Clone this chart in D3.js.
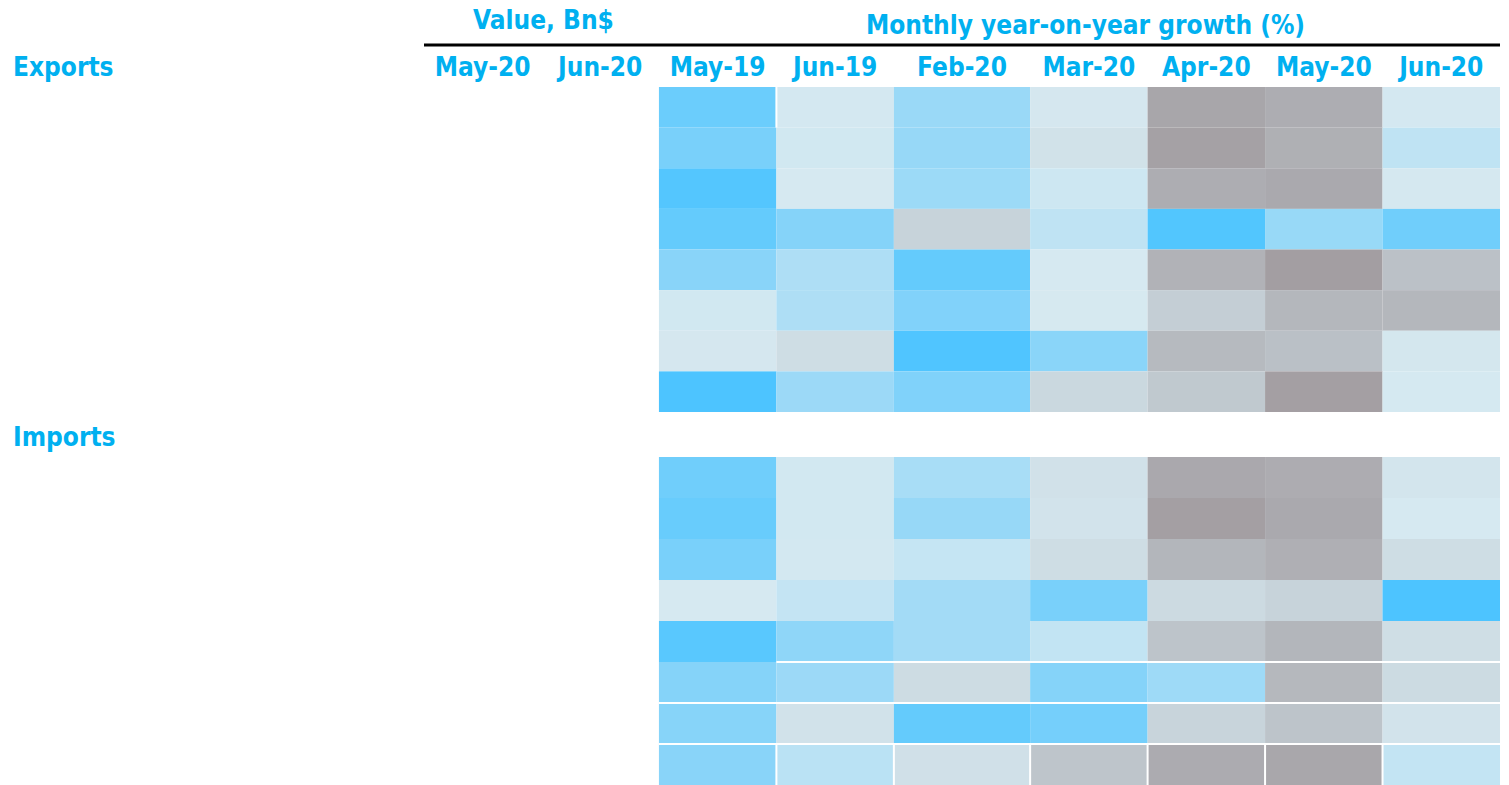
<!DOCTYPE html>
<html>
<head>
<meta charset="utf-8">
<script src="https://cdn.jsdelivr.net/npm/d3@7"></script>
<style>
  html, body { margin: 0; padding: 0; background: #fff; }
  svg text { font-family: "DejaVu Sans Condensed", "DejaVu Sans", sans-serif; font-stretch: condensed; font-weight: bold; fill: #00b0f0; }
</style>
</head>
<body>
<svg width="1509" height="785"></svg>
<script>

// Column headers
var valueCols = ["May-20", "Jun-20"];
var growthCols = ["May-19", "Jun-19", "Feb-20", "Mar-20", "Apr-20", "May-20", "Jun-20"];
var sections = ["Exports", "Imports"];

// Monthly year-on-year growth (%), 8 rows per section
var exportsGrowth = [
  [23.0, 0.5, 13.0, -0.8, -27.0, -24.0, 0.5],
  [20.0, 1.0, 13.5, -3.0, -29.0, -23.0, 5.0],
  [28.0, 0.0, 12.5, 2.0, -24.0, -25.6, -0.5],
  [24.5, 17.5, -8.8, 5.0, 28.5, 13.3, 22.0],
  [16.7, 8.6, 24.6, 0.0, -22.0, -30.0, -16.0],
  [1.0, 8.6, 18.4, -0.2, -10.8, -20.0, -20.0],
  [-0.8, -5.0, 29.0, 16.5, -19.0, -16.4, -1.0],
  [29.6, 12.6, 18.6, -6.8, -12.8, -29.6, 0.2]
];
var importsGrowth = [
  [22.0, 0.9, 9.9, -3.2, -26.0, -24.4, -1.6],
  [23.8, 0.9, 13.7, -2.4, -29.6, -25.6, 0.0],
  [20.0, 0.6, 3.6, -4.8, -20.4, -23.2, -4.8],
  [0.0, 3.9, 11.0, 20.0, -6.0, -8.8, 29.6],
  [27.0, 15.4, 11.0, 4.3, -14.8, -20.4, -4.4],
  [17.5, 12.6, -5.2, 17.5, 12.0, -19.6, -5.6],
  [17.0, -2.8, 24.6, 21.0, -8.4, -14.8, -2.4],
  [16.7, 6.0, -3.6, -14.4, -24.8, -26.4, 4.0]
];

var svg = d3.select("svg");

// layout: relative column widths (Feb-20 column is a bit wider)
var colUnits = [1, 1, 1, 1, 1.16, 1, 1, 1, 1];
var edges = [0];
colUnits.forEach(function (u, i) { edges.push(edges[i] + u); });

var x = d3.scaleLinear()
    .domain([0, edges[edges.length - 1]])
    .range([424, 1500]);

function colStart(i) { return x(edges[i]); }
function colEnd(i) { return x(edges[i + 1]); }
function colMid(i) { return (colStart(i) + colEnd(i)) / 2; }

var rowIdx = d3.range(8);
var yExp = d3.scaleBand().domain(rowIdx).range([87, 412]);
var yImp = d3.scaleBand().domain(rowIdx).range([457, 785]);

var color = d3.scaleLinear()
    .domain([-30, 0, 30])
    .range(["#a39ea2", "#d6e9f1", "#4bc4ff"])
    .clamp(true);

var fs = "26px";

// Headers
svg.append("text")
    .attr("x", (colStart(0) + colEnd(1)) / 2 + 2)
    .attr("y", 29)
    .attr("text-anchor", "middle")
    .style("font-size", fs)
    .text("Value, Bn$");

svg.append("text")
    .attr("x", (colStart(2) + colEnd(8)) / 2 + 6)
    .attr("y", 34)
    .attr("text-anchor", "middle")
    .style("font-size", fs)
    .text("Monthly year-on-year growth (%)");

svg.append("line")
    .attr("x1", colStart(0)).attr("x2", colEnd(8))
    .attr("y1", 45).attr("y2", 45)
    .attr("stroke", "#000").attr("stroke-width", 2.8);

var allCols = valueCols.concat(growthCols);
svg.append("g")
    .selectAll("text")
    .data(allCols)
    .enter()
    .append("text")
    .attr("x", function (d, i) { return colMid(i); })
    .attr("y", 76)
    .attr("text-anchor", "middle")
    .style("font-size", fs)
    .text(function (d) { return d; });

// Section labels
svg.append("text").attr("x", 13).attr("y", 76).style("font-size", fs).text(sections[0]);
svg.append("text").attr("x", 13).attr("y", 446).style("font-size", fs).text(sections[1]);

// Heat cells
function drawBlock(data, y) {
  var g = svg.append("g");
  data.forEach(function (row, r) {
    g.selectAll(null)
      .data(row)
      .enter()
      .append("rect")
      .attr("x", function (d, c) { return colStart(c + 2); })
      .attr("y", y(r))
      .attr("width", function (d, c) { return colEnd(c + 2) - colStart(c + 2); })
      .attr("height", y.bandwidth())
      .attr("fill", function (d) { return color(d); });
  });
  return g;
}
drawBlock(exportsGrowth, yExp);
drawBlock(importsGrowth, yImp);

// white cell borders seen in the lower rows of the imports block
var borders = svg.append("g").attr("stroke", "#fff").attr("stroke-width", 2);
[5, 6, 7].forEach(function (r) {
  borders.append("line")
    .attr("x1", colStart(r === 5 ? 3 : 2)).attr("x2", colEnd(8))
    .attr("y1", yImp(r)).attr("y2", yImp(r));
});
d3.range(3, 9).forEach(function (c) {
  borders.append("line")
    .attr("x1", colStart(c)).attr("x2", colStart(c))
    .attr("y1", yImp(7)).attr("y2", 785);
});
borders.append("line")
  .attr("x1", colStart(3)).attr("x2", colStart(3))
  .attr("y1", yExp(0)).attr("y2", yExp(1));

</script>
</body>
</html>
